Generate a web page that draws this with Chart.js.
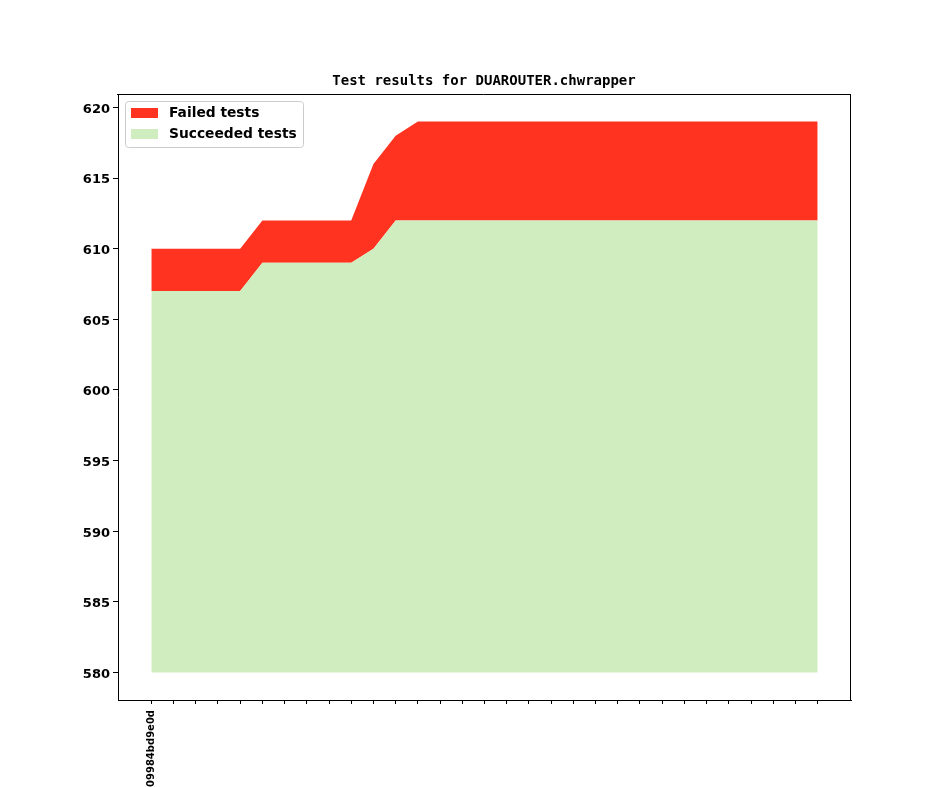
<!DOCTYPE html>
<html><head><meta charset="utf-8">
<script src="https://cdn.jsdelivr.net/npm/chart.js@4/dist/chart.umd.min.js"></script>
<style>html,body{margin:0;padding:0;background:#fff;}#wrap{width:944px;height:787px;}</style>
</head><body><div id="wrap"><canvas id="c" width="944" height="787"></canvas></div>
<script>
const categories = ["09984bd9e0d","","","","","","","","","","","","","","","","","","","","","","","","","","","","","",""];
const succeeded = [607,607,607,607,607,609,609,609,609,609,610,612,612,612,612,612,612,612,612,612,612,612,612,612,612,612,612,612,612,612,612];
const total = [610,610,610,610,610,612,612,612,612,612,616,618,619,619,619,619,619,619,619,619,619,619,619,619,619,619,619,619,619,619,619];
const yTicks = [580,585,590,595,600,605,610,615,620];
const titleText = "Test results for DUAROUTER.chwrapper";
const RED = '#ff331f', GREEN = '#cfedbe';

const legendPlugin = {
  id: 'mplLegend',
  afterDraw(chart) {
    const ctx = chart.ctx;
    ctx.save();
    const a = chart.chartArea;
    ctx.font = 'bold 14px "DejaVu Sans Mono"';
    ctx.fillStyle = '#000';
    ctx.textAlign = 'center';
    ctx.textBaseline = 'middle';
    ctx.fillText(titleText, 484, 81);
    ctx.strokeStyle = '#000'; ctx.lineWidth = 1;
    ctx.beginPath();
    ctx.moveTo(a.left - 1, 94.5); ctx.lineTo(850.5, 94.5);
    ctx.moveTo(850.5, 94); ctx.lineTo(850.5, a.bottom);
    ctx.stroke();
    const x = 125.5, y = 101.5, w = 178, h = 46;
    ctx.fillStyle = 'rgba(255,255,255,0.8)';
    ctx.strokeStyle = '#cccccc';
    ctx.beginPath();
    if (ctx.roundRect) ctx.roundRect(x, y, w, h, 3); else ctx.rect(x, y, w, h);
    ctx.fill(); ctx.stroke();
    const items = [chart.data.datasets[1], chart.data.datasets[0]];
    ctx.font = 'bold 13.8px "DejaVu Sans"';
    ctx.textAlign = 'left';
    ctx.textBaseline = 'middle';
    items.forEach((ds, i) => {
      const cy = 113 + i * 21;
      ctx.fillStyle = ds.backgroundColor;
      ctx.fillRect(131, cy - 5, 27, 10);
      ctx.fillStyle = '#000';
      ctx.fillText(ds.label, 169, cy + 0.5);
    });
    ctx.restore();
  }
};

new Chart(document.getElementById('c'), {
  type: 'line',
  data: {
    datasets: [
      { label: 'Succeeded tests', data: succeeded.map((v,i)=>({x:i,y:v})), backgroundColor: GREEN, borderColor: GREEN, borderWidth: 0, pointRadius: 0, tension: 0, fill: {value: 580} },
      { label: 'Failed tests', data: total.map((v,i)=>({x:i,y:v})), backgroundColor: RED, borderColor: RED, borderWidth: 0, pointRadius: 0, tension: 0, fill: '-1' }
    ]
  },
  options: {
    responsive: false,
    animation: false,
    devicePixelRatio: 1,
    layout: { padding: { left: 24, right: 93, top: 94, bottom: 0 } },
    plugins: {
      legend: { display: false },
      tooltip: { enabled: false },
      title: { display: false }
    },
    scales: {
      x: {
        type: 'linear', min: -1.5, max: 31.5,
        afterBuildTicks(s) { s.ticks = categories.map((c,i)=>({value:i})); },
        afterFit(s) { s.height = 87; },
        grid: { drawOnChartArea: false, drawTicks: true, tickLength: 4, color: '#000' },
        border: { color: '#000', width: 1 },
        ticks: { autoSkip: false, minRotation: 90, maxRotation: 90, padding: 6, color: '#000', font: { family: '"DejaVu Sans"', size: 10, weight: 'bold' }, callback: (v) => categories[v] ?? '' }
      },
      y: {
        type: 'linear', min: 578.05, max: 620.95,
        afterBuildTicks(s) { s.ticks = yTicks.map(v=>({value:v})); },
        afterFit(s) { s.width = 94; },
        grid: { drawOnChartArea: false, drawTicks: true, tickLength: 5, color: '#000' },
        border: { color: '#000', width: 1 },
        ticks: { padding: 3, labelOffset: 2, color: '#000', font: { family: '"DejaVu Sans"', size: 13, weight: 'bold' }, callback: (v) => String(v) }
      }
    }
  },
  plugins: [legendPlugin]
});
</script></body></html>
